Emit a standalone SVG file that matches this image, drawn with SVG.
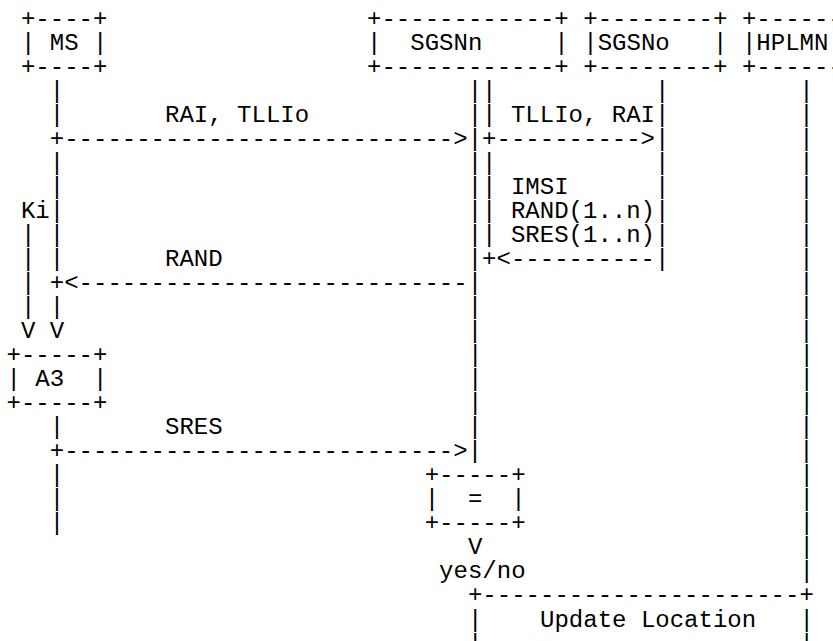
<svg xmlns="http://www.w3.org/2000/svg" width="833" height="641" viewBox="0 0 833 641" xml:space="preserve">
<style>
text { font-family: "Liberation Mono", "Courier New", monospace; font-size: 24.03px; fill: #000; white-space: pre; }
</style>
<rect width="833" height="641" fill="#fff"/>
<g id="node-ms">
<text x="20.92" y="25.5">+----+</text>
<text x="20.92" y="49.54">| MS |</text>
<text x="20.92" y="73.58">+----+</text>
</g>
<g id="node-sgsnn">
<text x="367.0" y="25.5">+------------+</text>
<text x="367.0" y="49.54">|  SGSNn     |</text>
<text x="367.0" y="73.58">+------------+</text>
</g>
<g id="node-sgsno">
<text x="583.3" y="25.5">+--------+</text>
<text x="583.3" y="49.54">|SGSNo   |</text>
<text x="583.3" y="73.58">+--------+</text>
</g>
<g id="node-hplmn">
<text x="741.92" y="25.5">+------</text>
<text x="741.92" y="49.54">|HPLMN</text>
<text x="741.92" y="73.58">+------</text>
</g>
<g id="node-a3">
<text x="6.5" y="362.06">+-----+</text>
<text x="6.5" y="386.1">| A3  |</text>
<text x="6.5" y="410.14">+-----+</text>
</g>
<g id="node-compare">
<text x="424.68" y="482.26">+-----+</text>
<text x="424.68" y="506.3">|  =  |</text>
<text x="424.68" y="530.34">+-----+</text>
</g>
<g id="node-update-location">
<text x="467.94" y="602.46">+----------------------+</text>
<text x="467.94" y="626.5">|    Update Location   |</text>
<text x="467.94" y="650.54">|                      |</text>
</g>
<g id="connectors">
<text x="6.5" y="97.62">   |                            ||           |         |</text>
<text x="6.5" y="121.66">   |       RAI, TLLIo           || TLLIo, RAI|         |</text>
<text x="6.5" y="145.7">   +---------------------------&gt;|+----------&gt;|         |</text>
<text x="6.5" y="169.74">   |                            ||           |         |</text>
<text x="6.5" y="193.78">   |                            || IMSI      |         |</text>
<text x="6.5" y="217.82"> Ki|                            || RAND(1..n)|         |</text>
<text x="6.5" y="241.86"> | |                            || SRES(1..n)|         |</text>
<text x="6.5" y="265.9"> | |       RAND                 |+&lt;----------|         |</text>
<text x="6.5" y="289.94"> | +&lt;---------------------------|                      |</text>
<text x="6.5" y="313.98"> | |                            |                      |</text>
<text x="6.5" y="338.02"> V V                            |                      |</text>
<text x="467.94" y="362.06">|                      |</text>
<text x="467.94" y="386.1">|                      |</text>
<text x="467.94" y="410.14">|                      |</text>
<text x="6.5" y="434.18">   |       SRES                 |                      |</text>
<text x="6.5" y="458.22">   +---------------------------&gt;|                      |</text>
<text x="49.76" y="482.26">|</text>
<text x="799.6" y="482.26">|</text>
<text x="49.76" y="506.3">|</text>
<text x="799.6" y="506.3">|</text>
<text x="49.76" y="530.34">|</text>
<text x="799.6" y="530.34">|</text>
<text x="467.94" y="554.38">V                      |</text>
<text x="439.1" y="578.42">yes/no                   |</text>
</g>
</svg>
